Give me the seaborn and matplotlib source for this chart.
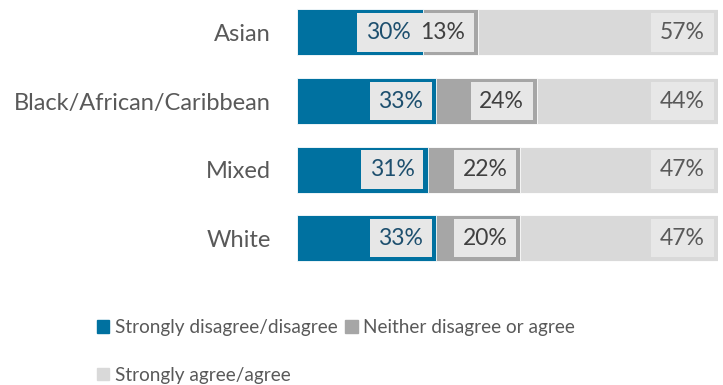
import matplotlib
matplotlib.use("Agg")
import matplotlib.pyplot as plt
from matplotlib.patches import Patch
import seaborn as sns
import pandas as pd
import numpy as np

groups = ["Asian", "Black/African/Caribbean", "Mixed", "White"]
disagree = [30, 33, 31, 33]
neither = [13, 24, 22, 20]
agree = [57, 44, 47, 47]
series_names = ["Strongly disagree/disagree", "Neither disagree or agree", "Strongly agree/agree"]

c_blue = "#0071a0"
c_mid = "#a6a6a6"
c_light = "#d9d9d9"
box_col = "#e7e7e7"
txt_cols = ["#1d4f6e", "#404040", "#595959"]

sns.set_theme(style="white")
plt.rcParams["font.family"] = ["Lato", "DejaVu Sans"]

df = pd.DataFrame({"group": groups, "disagree": disagree, "neither": neither, "agree": agree})
df["c1"] = df["disagree"]
df["c2"] = df["disagree"] + df["neither"]
df["c3"] = df["c2"] + df["agree"]

fig = plt.figure(figsize=(7.23, 3.85), dpi=100)
ax = fig.add_axes([0.411, 0.292, 0.582, 0.713])

# stacked bars drawn as overlapping cumulative totals
for col, color in [("c3", c_light), ("c2", c_mid), ("c1", c_blue)]:
    sns.barplot(data=df, x=col, y="group", orient="h", color=color, width=0.67,
                saturation=1, edgecolor="white", linewidth=0.6, ax=ax)

ax.set_xlim(0, 100)
ax.set_ylim(3.5, -0.5)
ax.set_xlabel("")
ax.set_ylabel("")
ax.set_xticks([])
ax.tick_params(axis="y", length=0, pad=19, labelsize=17, labelcolor="#595959")
sns.despine(ax=ax, left=True, bottom=True)

# value labels at the inside end of each segment (kept within the 100% axis)
lab_size = 16.5
lab_pad = 0.38
for i in range(len(groups)):
    ends = [df["c1"][i], df["c2"][i], df["c3"][i]]
    vals = [disagree[i], neither[i], agree[i]]
    for k in range(3):
        ax.annotate(f"{vals[k]}%", xy=(min(ends[k], 100), i),
                    xytext=(-(lab_pad * lab_size + 3), 0),
                    textcoords="offset points", ha="right", va="center",
                    fontsize=lab_size, color=txt_cols[k],
                    bbox=dict(boxstyle=f"square,pad={lab_pad}", fc=box_col, ec="none"))

handles = [Patch(color=c) for c in (c_blue, c_mid, c_light)]
order = [0, 2, 1]
fig.legend([handles[j] for j in order], [series_names[j] for j in order],
           ncol=2, loc="upper left", bbox_to_anchor=(0.134, 0.171),
           frameon=False, fontsize=13.7, labelcolor="#595959",
           handlelength=0.65, handleheight=0.65, handletextpad=0.3,
           columnspacing=0.4, labelspacing=1.6, borderpad=0, borderaxespad=0)

fig.savefig("out.png", dpi=100)
